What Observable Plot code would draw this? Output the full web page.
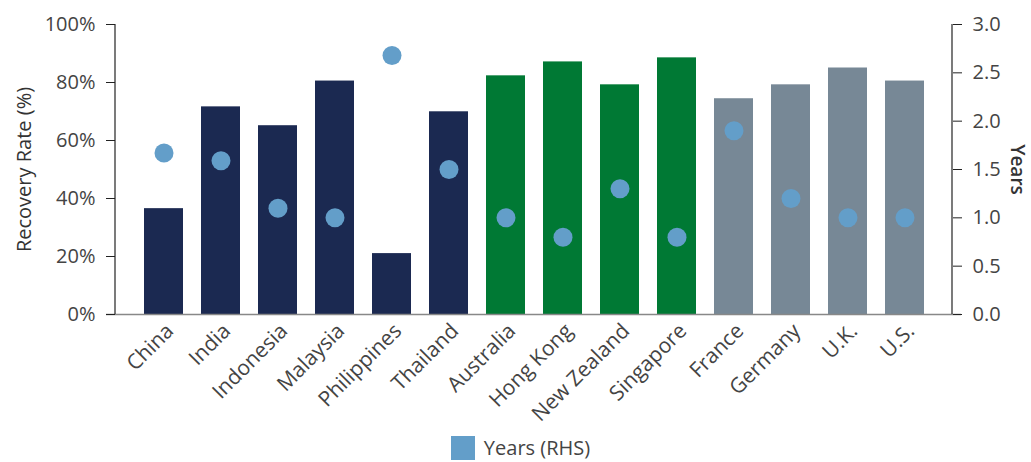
<!DOCTYPE html>
<html>
<head>
<meta charset="utf-8">
<script src="https://cdn.jsdelivr.net/npm/d3@7"></script>
<script src="https://cdn.jsdelivr.net/npm/@observablehq/plot@0.6"></script>
<style>
  body { margin: 0; background: #fff; font-family: "Open Sans", Lato, sans-serif; }
  #legend { display: flex; justify-content: center; align-items: center; gap: 9px; font-size: 20px; line-height: 24px; color: #444; margin-left: 10px; margin-top: 4px; }
  #legend .sw { width: 24px; height: 24px; }
</style>
</head>
<body>
<div id="chart"></div>
<div id="legend"></div>
<script>
const countries = ["China","India","Indonesia","Malaysia","Philippines","Thailand","Australia","Hong Kong","New Zealand","Singapore","France","Germany","U.K.","U.S."];
const groups = ["EM Asia","EM Asia","EM Asia","EM Asia","EM Asia","EM Asia","DM Asia","DM Asia","DM Asia","DM Asia","West","West","West","West"];
const recoveryRate = [36.5, 71.6, 65.1, 80.5, 21.0, 69.9, 82.3, 87.1, 79.2, 88.5, 74.4, 79.2, 85.0, 80.5];
const years = [1.67, 1.59, 1.1, 1.0, 2.68, 1.5, 1.0, 0.8, 1.3, 0.8, 1.9, 1.2, 1.0, 1.0];
const leftTicks = [0, 20, 40, 60, 80, 100];
const rightTicks = [0, 0.5, 1.0, 1.5, 2.0, 2.5, 3.0];
const groupNames = ["EM Asia","DM Asia","West"];
const groupColors = ["#1b2951", "#007934", "#778896"];
const dotColor = "#639ec9";
const yearsMax = 3;

const data = countries.map((c, i) => ({country: c, group: groups[i], rate: recoveryRate[i], years: years[i]}));
const toPct = v => v * 100 / yearsMax;
const font = "'Open Sans', Lato, sans-serif";

const plot = Plot.plot({
  width: 1031,
  height: 432,
  marginLeft: 115,
  marginRight: 79,
  marginTop: 24,
  marginBottom: 118,
  style: {fontFamily: font, fontSize: "20px", color: "#444", background: "#fff"},
  x: {domain: countries, paddingInner: 0.32, paddingOuter: 0.425, label: null},
  y: {domain: [0, 100], label: null},
  color: {domain: groupNames, range: groupColors},
  marks: [
    Plot.barY(data, {x: "country", y: "rate", fill: "group"}),
    Plot.ruleY([0], {stroke: "#888", strokeWidth: 1.5, insetLeft: -9, insetRight: -9}),
    Plot.dot(data, {x: "country", y: d => toPct(d.years), r: 9.5, fill: dotColor}),
    Plot.axisY({anchor: "left", ticks: leftTicks, tickFormat: d => d + "%", tickSize: 9, tickPadding: 11, stroke: "#222", fill: "#444", fontSize: 20, label: null}),
    Plot.axisY({anchor: "right", ticks: rightTicks.map(toPct), tickFormat: d => (d * yearsMax / 100).toFixed(1), tickSize: 9, tickPadding: 11, stroke: "#222", fill: "#444", fontSize: 20, label: null}),
    Plot.axisX({tickSize: 0, tickRotate: -45, tickPadding: 6, dx: 6, dy: 7, fill: "#444", fontSize: 21, label: null}),
    Plot.text(["Recovery Rate (%)"], {frameAnchor: "left", textAnchor: "middle", dx: -91, rotate: -90, fontSize: 20, fill: "#333", text: d => d}),
    Plot.text(["Years"], {frameAnchor: "right", textAnchor: "middle", dx: 65, rotate: 90, fontSize: 19, fill: "#333", fontWeight: 600, text: d => d})
  ]
});

// vertical axis lines drawn from the plot's own y scale
const ys = plot.scale("y");
const svg = d3.select(plot);
[115, 1031 - 79].forEach(x => {
  svg.append("line").attr("x1", x).attr("x2", x)
    .attr("y1", ys.apply(0)).attr("y2", ys.apply(100))
    .attr("stroke", "#222").attr("stroke-width", 1.2);
});

document.getElementById("chart").appendChild(plot);
const lg = document.getElementById("legend");
lg.innerHTML = `<span class="sw" style="background:${dotColor}"></span><span>Years (RHS)</span>`;
</script>
</body>
</html>
